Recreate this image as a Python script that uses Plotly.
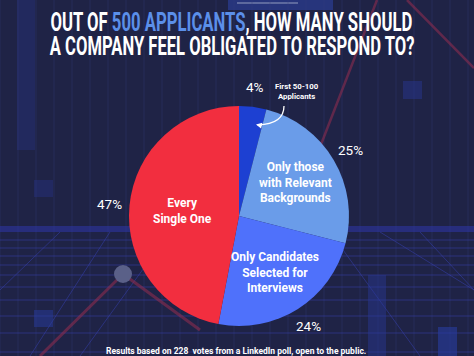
import math
import plotly.graph_objects as go

# ---- data ----
labels = ["First 50-100 Applicants", "Only those with Relevant Backgrounds",
          "Only Candidates Selected for Interviews", "Every Single One"]
inside_text = ["", "Only those<br>with Relevant<br>Backgrounds",
               "Only Candidates<br>Selected for<br>Interviews", "Every<br>Single One"]
values = [4, 25, 24, 47]
colors = ["#1d40d2", "#6a9ce9", "#4f71fb", "#f22e3f"]

W, H = 474, 356
CX, CY, R = 239, 216, 110
BG = "#1f2346"

def px(x):
    return x / W

def py(y):
    return 1 - y / H

fig = go.Figure()
fig.add_trace(go.Pie(
    labels=labels, values=values, sort=False, direction="clockwise",
    rotation=0, marker=dict(colors=colors, line=dict(width=0)),
    textinfo="none", hoverinfo="label+percent", showlegend=False,
    domain=dict(x=[px(CX - R), px(CX + R)], y=[py(CY + R), py(CY - R)]),
))

annotations = []
total = sum(values)
cum = 0
inner_frac = [0, 0.6, 0.61, 0.52]
for i, v in enumerate(values):
    mid = (cum + v / 2) / total * 2 * math.pi
    cum += v
    ro = R + 20
    annotations.append(dict(
        x=px(CX + ro * math.sin(mid)), y=py(CY - ro * math.cos(mid)),
        xref="paper", yref="paper", text=f"{v}%", showarrow=False,
        font=dict(family="Roboto", size=13.5, color="white"),
        xanchor="center", yanchor="middle"))
    if inside_text[i]:
        ri = R * inner_frac[i]
        annotations.append(dict(
            x=px(CX + ri * math.sin(mid)), y=py(CY - ri * math.cos(mid)),
            xref="paper", yref="paper", text=f"<b>{inside_text[i]}</b>",
            showarrow=False, align="center",
            font=dict(family="Roboto", size=12, color="white"),
            xanchor="center", yanchor="middle"))

annotations.append(dict(
    x=px(297), y=py(92), xref="paper", yref="paper",
    text="<b>First 50-100<br>Applicants</b>", showarrow=False, align="center",
    font=dict(family="Roboto", size=7.8, color="white"),
    xanchor="center", yanchor="middle"))
annotations.append(dict(
    x=px(256), y=py(124.5), xref="paper", yref="paper", text="",
    showarrow=True, arrowhead=2, arrowsize=0.9, arrowwidth=1.3,
    arrowcolor="white", ax=7, ay=1.5))

# title (condensed afterwards in the page script)
annotations.append(dict(
    x=px(231), y=py(21.5), xref="paper", yref="paper",
    text="<b>OUT OF <span style='color:#5b8fe9'>500 APPLICANTS</span>, HOW MANY SHOULD</b>",
    showarrow=False, font=dict(family="Roboto", size=25.5, color="white"),
    xanchor="center", yanchor="middle"))
annotations.append(dict(
    x=px(231.5), y=py(45.5), xref="paper", yref="paper",
    text="<b>A COMPANY FEEL OBLIGATED TO RESPOND TO?</b>",
    showarrow=False, font=dict(family="Roboto", size=25.5, color="white"),
    xanchor="center", yanchor="middle"))

annotations.append(dict(
    x=px(236), y=py(350.5), xref="paper", yref="paper",
    text="<b>Results based on 228  votes from a LinkedIn poll, open to the public.</b>",
    showarrow=False, font=dict(family="Roboto", size=8.5, color="white"),
    xanchor="center", yanchor="middle"))

# ---- background decoration ----
shapes = []
def rect(x0, y0, x1, y1, color):
    shapes.append(dict(type="rect", xref="paper", yref="paper", layer="below",
                       x0=px(x0), x1=px(x1), y0=py(y1), y1=py(y0),
                       fillcolor=color, line=dict(width=0)))

def line(x0, y0, x1, y1, color, width=1):
    shapes.append(dict(type="line", xref="paper", yref="paper", layer="below",
                       x0=px(x0), x1=px(x1), y0=py(y0), y1=py(y1),
                       line=dict(color=color, width=width)))

rect(17, 0, 35, 150, "rgba(40,55,140,0.35)")
rect(228, 0, 333, 10, "rgba(45,70,170,0.55)")
line(237, 3, 298, 3, "rgba(160,170,200,0.6)", 1.5)
for xv in range(0, W + 1, 18):
    line(xv, 0, xv, H, "rgba(55,65,130,0.35)", 1)
rect(0, 226, W, 232, "rgba(45,55,170,0.55)")
for yh in [240, 248, 256, 265, 275, 287, 300, 316, 333, 352]:
    line(0, yh, W, yh, "rgba(55,65,180,0.5)", 1)
for x0, x1 in [(60, 0), (110, 30), (170, 80), (330, 420), (380, 474), (420, 474)]:
    line(x0, 232, x1, 356 if x1 not in (0, 474) else 290, "rgba(55,65,180,0.5)", 1)
rect(34, 180, 53, 197, "rgba(40,55,150,0.35)")
rect(34, 310, 53, 327, "rgba(40,60,160,0.5)")
rect(403, 81, 422, 99, "rgba(40,55,150,0.45)")
rect(368, 275, 386, 356, "rgba(40,55,150,0.45)")
rect(438, 327, 457, 356, "rgba(40,60,160,0.6)")
line(40, 356, 123, 274, "rgba(150,45,80,0.55)", 3)
line(123, 274, 200, 330, "rgba(150,45,80,0.55)", 3)
line(377, 0, 315, 160, "rgba(150,45,80,0.55)", 2.5)
line(407, 0, 474, 68, "rgba(150,45,80,0.55)", 2.5)
shapes.append(dict(type="circle", xref="paper", yref="paper", layer="below",
                   x0=px(114), x1=px(132), y0=py(283), y1=py(265),
                   fillcolor="#5a6088", line=dict(width=0)))
shapes.append(dict(type="path", xref="paper", yref="paper", layer="above",
                   path=f"M {px(284)},{py(106)} Q {px(284)},{py(124)} {px(258)},{py(125)}",
                   line=dict(color="white", width=1.3)))

fig.update_layout(
    width=W, height=H, margin=dict(l=0, r=0, t=0, b=0),
    paper_bgcolor=BG, plot_bgcolor=BG,
    annotations=annotations, shapes=shapes,
)

post = """
document.body.style.margin = '0';
document.body.style.overflow = 'hidden';
var gd = document.getElementById('{plot_id}');
gd.querySelectorAll('text.annotation-text').forEach(function(t){
  var s = t.textContent;
  var target = null;
  if (s.indexOf('OUT OF') === 0) target = 362;
  else if (s.indexOf('A COMPANY') === 0) target = 365;
  if (target) {
    var b = t.getBBox();
    var cx = b.x + b.width / 2;
    var k = target / b.width;
    t.setAttribute('transform', 'translate(' + cx + ',0) scale(' + k + ',1) translate(' + (-cx) + ',0)');
  }
});
"""
fig.write_html("out.html", post_script=post, config={"displayModeBar": False})
